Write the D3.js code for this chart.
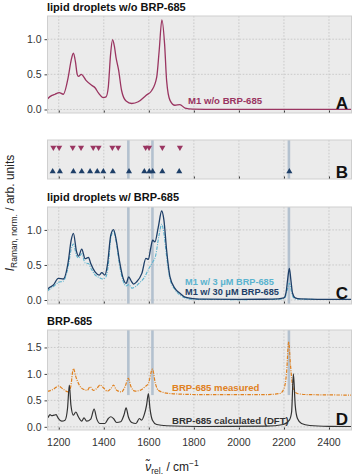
<!DOCTYPE html>
<html><head><meta charset="utf-8">
<script src="https://cdn.jsdelivr.net/npm/d3@7"></script>
<style>body{margin:0;background:#fff}svg{display:block;font-family:"Liberation Sans",Arial,sans-serif}</style>
</head><body><svg id="c" width="353" height="475"></svg>
<script>
// ---- data (wavenumber / intensity pairs) ----
const xTicks = [1200,1400,1600,1800,2000,2200,2400];
const bands = [1509, 1616, 2222];
const m1NoBRP_x = [1150,1154,1170,1183,1202,1220,1242,1255,1265,1274,1282,1288,1300,1321,1346,1361,1376,1398,1410,1420,1430,1439,1447,1454,1466,1479,1499,1524,1553,1587,1613,1635,1646,1658,1670,1679,1694,1716,1738,1761,1796,1850,2000,2200,2400,2500];
const m1NoBRP_y = [0.15,0.164,0.20,0.217,0.24,0.217,0.46,0.70,0.80,0.68,0.50,0.47,0.50,0.415,0.344,0.31,0.235,0.17,0.18,0.32,0.78,0.995,0.90,0.745,0.557,0.27,0.12,0.085,0.11,0.20,0.27,0.46,0.84,1.275,0.93,0.41,0.13,0.06,0.07,0.02,0.005,0.003,0.003,0.003,0.003,0.003];
const m1_30_x = [1150,1154,1176,1198,1220,1242,1255,1265,1279,1288,1302,1317,1332,1342,1361,1380,1391,1405,1416,1431,1443,1454,1469,1484,1499,1511,1521,1532,1546,1569,1587,1598,1608,1617,1627,1642,1657,1667,1679,1694,1716,1738,1761,1796,1850,2000,2150,2200,2210,2216,2224,2231,2238,2250,2272,2350,2500];
const m1_30_y = [0.15,0.166,0.213,0.31,0.30,0.545,0.85,0.95,0.69,0.626,0.725,0.59,0.607,0.52,0.40,0.356,0.39,0.356,0.50,0.925,1.005,0.877,0.57,0.33,0.237,0.33,0.275,0.228,0.26,0.38,0.593,0.58,0.735,0.853,0.83,1.04,1.27,1.14,0.71,0.33,0.166,0.095,0.04,0.02,0.012,0.01,0.012,0.03,0.12,0.28,0.45,0.28,0.10,0.03,0.015,0.01,0.01];
const m1_3_x = [1150,1154,1176,1198,1220,1242,1255,1265,1279,1288,1302,1317,1332,1345,1361,1380,1395,1408,1420,1431,1443,1454,1469,1484,1499,1511,1525,1540,1560,1580,1600,1617,1630,1645,1657,1667,1679,1694,1716,1738,1761,1796,1850,2000,2150,2200,2210,2216,2224,2231,2238,2250,2350,2500];
const m1_3_y = [0.13,0.14,0.19,0.25,0.27,0.48,0.72,0.80,0.63,0.60,0.66,0.53,0.52,0.44,0.36,0.32,0.30,0.32,0.50,0.88,0.98,0.85,0.52,0.29,0.20,0.22,0.17,0.19,0.25,0.32,0.45,0.54,0.63,0.92,1.08,0.95,0.62,0.30,0.15,0.07,0.03,0.01,0.008,0.006,0.008,0.02,0.08,0.16,0.24,0.16,0.06,0.015,0.008,0.008];
const meas_x = [1150,1154,1176,1198,1220,1242,1253,1265,1276,1291,1309,1327,1339,1354,1369,1383,1398,1416,1432,1443,1457,1479,1494,1509,1521,1539,1561,1583,1598,1616,1629,1642,1664,1709,1827,2123,2182,2200,2212,2221,2229,2241,2259,2300,2500];
const meas_y = [0.67,0.674,0.71,0.77,0.71,0.66,0.756,1.10,0.945,0.79,0.71,0.69,0.756,0.69,0.725,0.79,0.74,0.674,0.725,0.79,0.69,0.66,0.756,0.914,0.756,0.674,0.69,0.756,0.82,1.09,0.82,0.69,0.65,0.624,0.61,0.61,0.63,0.72,1.04,1.61,1.17,0.72,0.63,0.61,0.60];
const dft_x = [1150,1154,1161,1168,1179,1188,1198,1213,1228,1239,1247,1254,1265,1276,1287,1302,1312,1324,1342,1357,1369,1383,1405,1420,1431,1443,1457,1475,1490,1499,1509,1524,1543,1558,1568,1579,1590,1598,1605,1616,1635,1679,1827,2123,2197,2224,2234,2242,2250,2260,2278,2315,2400,2500];
const dft_y = [0.17,0.19,0.23,0.21,0.22,0.23,0.16,0.107,0.126,0.35,0.79,0.41,0.22,0.28,0.19,0.107,0.17,0.107,0.145,0.334,0.145,0.063,0.063,0.157,0.19,0.157,0.082,0.095,0.23,0.36,0.19,0.082,0.063,0.157,0.126,0.22,0.41,0.63,0.35,0.126,0.044,0.02,0.006,0.013,0.044,0.126,0.28,1.0,0.41,0.157,0.063,0.025,0.01,0.006];
const markDown = [1176,1202,1262,1299,1353,1377,1438,1464,1586,1601,1660,1738];
const markUp = [1173,1205,1265,1302,1339,1371,1398,1440,1512,1580,1602,1617,1660,1735,2224];

// ---- layout ----
const svg = d3.select("#c");
const X0 = 47.5, X1 = 351.5;
const x = d3.scaleLinear().domain([1150,2500]).range([X0,X1]);
const C = {crimson:"#9a3561", navy:"#1e3f68", light:"#5ab3cf", orange:"#e0811f", black:"#333333", band:"#aebdcc"};

function panel(top, bottom, ydom, yt) {
  const g = svg.append("g");
  const y = ydom ? d3.scaleLinear().domain(ydom).range([bottom, top]) : null;
  g.append("rect").attr("x",X0).attr("y",top).attr("width",X1-X0).attr("height",bottom-top).attr("fill","#ebebeb");
  const clip = "clip"+top;
  svg.append("clipPath").attr("id",clip).append("rect").attr("x",X0).attr("y",top).attr("width",X1-X0).attr("height",bottom-top);
  g.selectAll(".gx").data(xTicks).join("line").attr("x1",d=>x(d)).attr("x2",d=>x(d)).attr("y1",top).attr("y2",bottom)
    .attr("stroke","#c2c2c2").attr("stroke-width",0.8).attr("stroke-dasharray","1.6,1.6");
  if (y) {
    g.selectAll(".gy").data(yt).join("line").attr("x1",X0).attr("x2",X1).attr("y1",d=>y(d)).attr("y2",d=>y(d))
      .attr("stroke","#c2c2c2").attr("stroke-width",0.8).attr("stroke-dasharray","1.6,1.6");
    const ax = g.append("g").attr("transform",`translate(${X0},0)`)
      .call(d3.axisLeft(y).tickValues(yt).tickFormat(d3.format(".1f")).tickSize(3).tickPadding(3));
    ax.select(".domain").remove();
    ax.selectAll("line").attr("stroke","#444");
    ax.selectAll("text").attr("font-size",10.5).attr("fill","#333").attr("font-family","Liberation Sans, Arial, sans-serif");
  }
  const bx = g.append("g").attr("transform",`translate(0,${bottom})`)
    .call(d3.axisBottom(x).tickValues(xTicks).tickSize(-2.5).tickFormat(""));
  bx.select(".domain").remove();
  bx.selectAll("line").attr("stroke","#333");
  return {g, y, top, bottom, clip};
}
function border(p){
  p.g.append("rect").attr("x",X0).attr("y",p.top).attr("width",X1-X0).attr("height",p.bottom-p.top)
    .attr("fill","none").attr("stroke","#cfcfcf").attr("stroke-width",1);
}
function drawBands(p, yEnd){
  p.g.selectAll(".b").data(bands).join("line").attr("x1",d=>x(d)).attr("x2",d=>x(d))
    .attr("y1",p.top).attr("y2",yEnd!==undefined?p.y(yEnd):p.bottom)
    .attr("stroke",C.band).attr("stroke-width",2.6).attr("opacity",0.9);
}
function series(p, xs, ys, color, dash, w){
  const pts = xs.map((v,i)=>[v, ys[i]]);
  const line = d3.line().x(d=>x(d[0])).y(d=>p.y(d[1])).curve(d3.curveMonotoneX);
  p.g.append("path").attr("d",line(pts)).attr("fill","none").attr("stroke",color)
    .attr("stroke-width",w||1.2).attr("stroke-dasharray",dash||null).attr("clip-path",`url(#${p.clip})`);
}
function label(p, txt, lx, ly, color, fs){
  p.g.append("text").attr("x",lx).attr("y",ly).text(txt).attr("fill",color)
    .attr("font-size",fs||9.6).attr("font-weight","bold");
}
function letter(p, t, ly){
  p.g.append("text").attr("x",348).attr("y",ly).attr("text-anchor","end").text(t)
    .attr("font-size",17).attr("font-weight","bold").attr("fill","#111");
}
function title(t, ty){
  svg.append("text").attr("x",47).attr("y",ty).text(t).attr("font-size",11).attr("font-weight","bold").attr("fill","#111");
}

// Panel A
title("lipid droplets w/o BRP-685", 11);
const A = panel(16, 113, [-0.05,1.33], [0,0.5,1.0]);
series(A, m1NoBRP_x, m1NoBRP_y, C.crimson, null, 1.3);
border(A);
label(A, "M1 w/o BRP-685", 188, 104, C.crimson);
letter(A, "A", 109);

// Panel B
const B = panel(140, 179, null, []);
drawBands({g:B.g, top:140, bottom:179, y:null});
const tri = d3.symbol().type(d3.symbolTriangle).size(16);
B.g.selectAll(".dn").data(markDown).join("path").attr("d",tri)
  .attr("transform",d=>`translate(${x(d)},147.5) rotate(180)`).attr("fill",C.crimson);
B.g.selectAll(".up").data(markUp).join("path").attr("d",tri)
  .attr("transform",d=>`translate(${x(d)},171.5)`).attr("fill",C.navy);
border(B);
letter(B, "B", 177.5);

// Panel C
title("lipid droplets w/ BRP-685", 201);
const Cp = panel(207, 304, [-0.057,1.327], [0,0.5,1.0]);
drawBands(Cp);
series(Cp, m1_3_x, m1_3_y, C.light, "3.5,1.2,1,1.2", 1.1);
series(Cp, m1_30_x, m1_30_y, C.navy, null, 1.3);
border(Cp);
label(Cp, "M1 w/ 3 μM BRP-685", 185, 285, C.light, 9.2);
label(Cp, "M1 w/ 30 μM BRP-685", 185, 294.5, C.navy, 9.2);
letter(Cp, "C", 299);

// Panel D
title("BRP-685", 325);
const D = panel(330, 430, [-0.06,1.83], [0,0.5,1.0,1.5]);
drawBands(D, 0.6);
series(D, meas_x, meas_y, C.orange, "3.5,1.2,1,1.2", 1.2);
series(D, dft_x, dft_y, C.black, null, 1.2);
border(D);
label(D, "BRP-685 measured", 172, 391, C.orange);
label(D, "BRP-685 calculated (DFT)", 172, 423.5, C.black);
letter(D, "D", 425);

// x tick labels
svg.append("g").selectAll("text").data(xTicks).join("text")
  .attr("x",d=>x(d)).attr("y",445.5).attr("text-anchor","middle").text(d=>d)
  .attr("font-size",10.5).attr("fill","#333");

// axis titles
const xl = svg.append("text").attr("x",172).attr("y",471).attr("text-anchor","middle").attr("font-size",12).attr("fill","#222");
xl.append("tspan").attr("font-style","italic").text("ν̃");
xl.append("tspan").attr("font-size",8.5).attr("dy",3).text("rel.");
xl.append("tspan").attr("dy",-3).text(" / cm");
xl.append("tspan").attr("font-size",8.5).attr("dy",-5).text("−1");

const yl = svg.append("text").attr("transform","translate(14,213) rotate(-90)").attr("text-anchor","middle").attr("font-size",12).attr("fill","#222");
yl.append("tspan").attr("font-style","italic").text("I");
yl.append("tspan").attr("font-size",8.5).attr("dy",3).text("Raman, norm.");
yl.append("tspan").attr("dy",-3).text(" / arb. units");
</script></body></html>
